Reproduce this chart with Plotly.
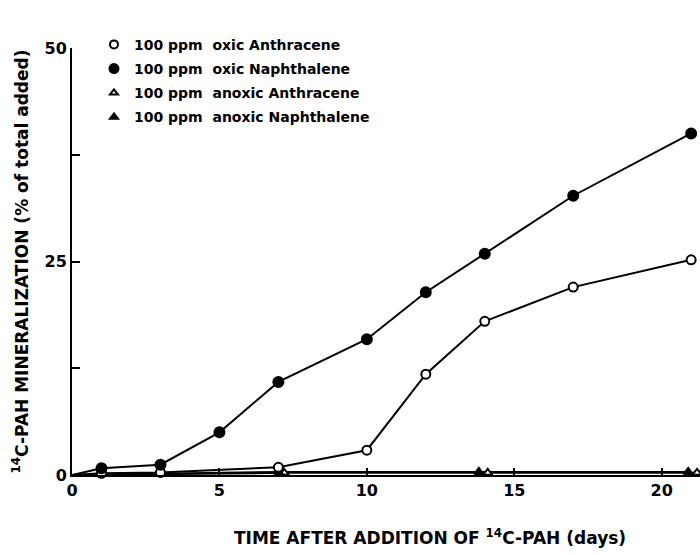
import plotly.graph_objects as go

days_oxic_a = [0, 1, 3, 7, 10, 12, 14, 17, 21]
oxic_anthracene = [0, 0.2, 0.3, 0.9, 2.9, 11.8, 18.0, 22.0, 25.2]

days_oxic_n = [0, 1, 3, 5, 7, 10, 12, 14, 17, 21]
oxic_naphthalene = [0, 0.8, 1.2, 5.0, 10.9, 15.9, 21.4, 25.9, 32.7, 40.0]

days_anoxic_a = [0, 7.2, 14.1, 21.2]
anoxic_anthracene = [0, 0.25, 0.25, 0.25]

days_anoxic_n = [0, 7.0, 13.8, 20.9]
anoxic_naphthalene = [0, 0.35, 0.35, 0.35]

names = ["100 ppm  oxic Anthracene", "100 ppm  oxic Naphthalene",
         "100 ppm  anoxic Anthracene", "100 ppm  anoxic Naphthalene"]

x_title = "TIME AFTER ADDITION OF <sup>14</sup>C-PAH (days)"
y_title = "<sup>14</sup>C-PAH MINERALIZATION (% of total added)"

FONT = "DejaVu Sans"
fig = go.Figure()

series = [
    (days_anoxic_a, anoxic_anthracene, "triangle-up", "white", 8),
    (days_anoxic_n, anoxic_naphthalene, "triangle-up", "black", 8),
    (days_oxic_a, oxic_anthracene, "circle", "white", 9),
    (days_oxic_n, oxic_naphthalene, "circle", "black", 10),
]
for xs, ys, sym, fill, sz in series:
    fig.add_trace(go.Scatter(
        x=xs, y=ys, mode="lines", line=dict(color="black", width=2),
        showlegend=False, cliponaxis=False, hoverinfo="skip"))
for xs, ys, sym, fill, sz in series:
    fig.add_trace(go.Scatter(
        x=xs[1:], y=ys[1:], mode="markers",
        marker=dict(symbol=sym, size=sz, color=fill,
                    line=dict(color="black", width=2)),
        showlegend=False, cliponaxis=False))

leg_syms = [("circle", "white", 8), ("circle", "black", 9),
            ("triangle-up", "white", 7), ("triangle-up", "black", 7)]
for i, (nm, (sym, fill, sz)) in enumerate(zip(names, leg_syms)):
    fig.add_trace(go.Scatter(
        x=[None], y=[None], mode="markers", name=nm, legendgroup=f"g{i}",
        marker=dict(symbol=sym, size=sz, color=fill,
                    line=dict(color="black", width=2))))

fig.add_annotation(text=x_title, xref="paper", yref="paper",
                   x=0.57, y=-0.145, xanchor="center", yanchor="middle",
                   showarrow=False, font=dict(size=17, weight="bold"))

fig.update_layout(
    width=700, height=555,
    margin=dict(l=72, r=0, t=48, b=80),
    paper_bgcolor="white", plot_bgcolor="white",
    font=dict(family=FONT, color="black", size=15, weight="bold"),
    legend=dict(x=0.035, y=1.045, xanchor="left", yanchor="top",
                bgcolor="rgba(0,0,0,0)",
                font=dict(size=14, family=FONT, weight="bold"),
                tracegroupgap=3, itemwidth=30),
    xaxis=dict(range=[0, 21.3], tickvals=[0, 5, 10, 15, 20],
               showline=True, linecolor="black", linewidth=2,
               ticks="inside", ticklen=7, tickwidth=2, tickcolor="black",
               showgrid=False, zeroline=False,
               tickfont=dict(size=16, weight="bold")),
    yaxis=dict(range=[0, 50], tickvals=[0, 25, 50],
               showline=True, linecolor="black", linewidth=2,
               ticks="inside", ticklen=8, tickwidth=2, tickcolor="black",
               minor=dict(tickvals=[12.5, 37.5], ticks="inside", ticklen=8,
                          tickwidth=2, tickcolor="black"),
               showgrid=False, zeroline=False,
               tickfont=dict(size=16, weight="bold"),
               title=dict(text=y_title,
                          font=dict(size=17, weight="bold"), standoff=12)),
)

fig.write_html("out.html")
